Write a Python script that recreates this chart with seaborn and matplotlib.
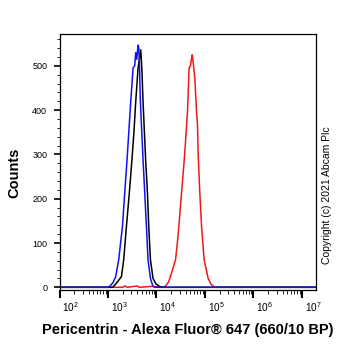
import numpy as np
import pandas as pd
import matplotlib
matplotlib.use("Agg")
import matplotlib.pyplot as plt
import matplotlib.transforms as mtransforms
from matplotlib.ticker import LogLocator, MultipleLocator, FixedLocator
import seaborn as sns

# ---- data (log10 fluorescence, counts) ----
blue_log = [2.0, 2.8, 3.0, 3.035, 3.10, 3.159, 3.221, 3.298, 3.345, 3.393, 3.469, 3.517,
            3.55, 3.572, 3.593, 3.62, 3.635, 3.648, 3.665, 3.676, 3.723, 3.758, 3.793,
            3.826, 3.876, 3.924, 3.965, 4.2, 7.3]
blue_cnt = [0, 0, 0, 2, 10, 24, 62, 137, 213, 288, 419, 495,
            500, 530, 515, 547, 540, 510, 430, 400, 288, 213, 137,
            62, 20, 3, 0, 0, 0]

black_log = [2.0, 3.0, 3.097, 3.18, 3.277, 3.324, 3.380, 3.44, 3.49, 3.535, 3.572, 3.62,
             3.676, 3.70, 3.723, 3.779, 3.814, 3.841, 3.876, 3.929, 3.986, 4.048, 4.11, 7.3]
black_cnt = [0, 0, 0, 10, 24, 62, 137, 213, 282, 350, 419, 495,
             536, 490, 419, 282, 213, 137, 62, 20, 8, 3, 0, 0]

red_log = [2.0, 3.3, 3.35, 3.4, 3.6, 3.65, 3.9, 4.0, 4.171, 4.25, 4.310, 4.393, 4.43,
           4.461, 4.517, 4.570, 4.60, 4.640, 4.673, 4.70, 4.736, 4.75, 4.791, 4.826,
           4.845, 4.860, 4.894, 4.930, 4.983, 5.066, 5.13, 5.204, 7.3]
red_cnt = [0, 0, 3, 0, 3, 0, 2, 1, 1, 12, 32, 62, 100,
           137, 213, 284, 330, 397, 495, 500, 525, 515, 472, 397,
           370, 300, 213, 137, 62, 20, 6, 0, 0]

y_ticks = [0, 100, 200, 300, 400, 500]
x_title = "Pericentrin - Alexa Fluor® 647 (660/10 BP)"
y_title = "Counts"
copyright_text = "Copyright (c) 2021 Abcam Plc"

frames = []
for name, lg, ct in [("red", red_log, red_cnt), ("black", black_log, black_cnt),
                     ("blue", blue_log, blue_cnt)]:
    frames.append(pd.DataFrame({"x": np.power(10.0, lg), "count": ct, "series": name}))
df = pd.concat(frames, ignore_index=True)

sns.set_theme(style="ticks")
plt.rcParams['font.family'] = ['Liberation Sans', 'DejaVu Sans']
for key in ["text.color", "axes.labelcolor", "xtick.color", "ytick.color", "axes.edgecolor"]:
    plt.rcParams[key] = "black"

fig = plt.figure(figsize=(3.62, 3.51), dpi=100)
ax = fig.add_axes([59.5 / 362, 1 - 289.5 / 351, (316 - 59.5) / 362, (289.5 - 34) / 351])

palette = {"red": "#f01818", "black": "#000000", "blue": "#1010f0"}
sns.lineplot(data=df, x="x", y="count", hue="series", palette=palette,
             hue_order=["red", "black", "blue"], estimator=None, sort=True,
             linewidth=1.1, legend=False, ax=ax)

ax.set_xscale("log")
ax.set_xlim(100, 10 ** 7.29)
ax.set_ylim(-5, 572)

ax.yaxis.set_major_locator(FixedLocator(y_ticks))
ax.yaxis.set_minor_locator(MultipleLocator(20))
ax.xaxis.set_major_locator(LogLocator(base=10, numticks=20))
ax.xaxis.set_minor_locator(LogLocator(base=10, subs=np.arange(2, 10), numticks=20))

for s in ax.spines.values():
    s.set_linewidth(0.9)
    s.set_color("black")
    s.set_visible(True)

ax.tick_params(axis="y", which="major", length=4.3, width=1.2, pad=4.5, labelsize=6.5, direction="out")
ax.tick_params(axis="y", which="minor", length=2.2, width=0.6, direction="out")
ax.tick_params(axis="x", which="major", length=5.5, width=1.5, pad=2.5, labelsize=7.2, direction="out")
ax.tick_params(axis="x", which="minor", length=3.0, width=0.6, direction="out")

offset = mtransforms.ScaledTranslation(2 / 72, 0, fig.dpi_scale_trans)
for lbl in ax.get_xticklabels():
    lbl.set_horizontalalignment("left")
    lbl.set_transform(lbl.get_transform() + offset)

ax.set_xlabel(x_title, fontsize=10.5, fontweight="bold", labelpad=6)
ax.set_ylabel(y_title, fontsize=10.5, fontweight="bold")
ax.yaxis.set_label_coords(-0.148, 0.455)

fig.text(327 / 362, 1 - 195 / 351, copyright_text, rotation=90, fontsize=7.5,
         ha="center", va="center")

fig.savefig("out.png", dpi=100)
